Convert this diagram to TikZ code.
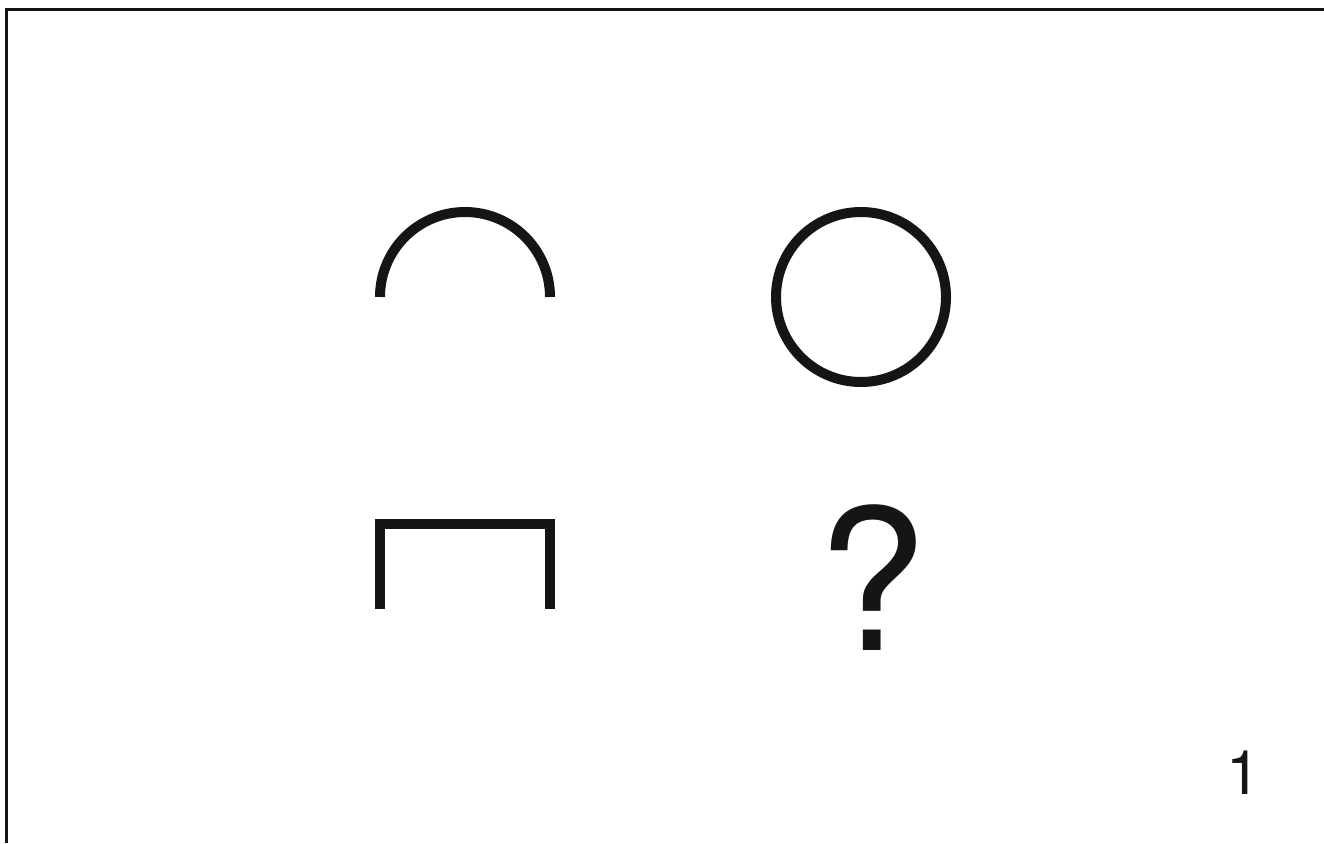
\documentclass[tikz,border=0pt]{standalone}
\usepackage{fontspec}
\setmainfont{TeX Gyre Heros}
\usetikzlibrary{positioning}

\definecolor{ink}{HTML}{151515}
\tikzset{
  figline/.style={draw=ink,line width=0.2cm,line cap=butt,line join=miter},
  frameline/.style={draw=ink,line width=0.06cm}
}

\begin{document}
\begin{tikzpicture}[x=0.02cm,y=0.02cm]
  \useasboundingbox (0,0) rectangle (1324,843);
  % frame
  \draw[frameline] (6.5,0) -- (6.5,833.5) -- (1324,833.5);
  % top row
  \draw[figline] (380,546) arc[start angle=180,end angle=0,radius=85];
  \draw[figline] (861,546) circle[radius=85];
  % bottom row
  \draw[figline] (380,234) -- (380,319.5) -- (550,319.5) -- (550,234);
  \node[anchor=base,inner sep=0pt,text=ink,font=\fontsize{112}{112}\selectfont] (quest) at (872,193) {?};
  % page number
  \node[anchor=base,inner sep=0pt,text=ink,font=\fontsize{35}{35}\selectfont] (pagenum) at (1244,49) {1};
\end{tikzpicture}
\end{document}
